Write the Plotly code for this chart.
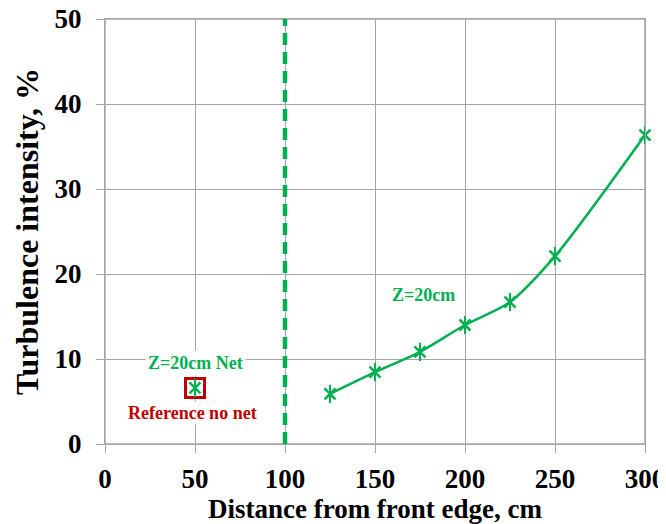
import plotly.graph_objects as go

# Data
dist_z20 = [125, 150, 175, 200, 225, 250, 300]
ti_z20 = [5.9, 8.45, 10.85, 14.0, 16.7, 22.1, 36.35]
dist_ref = [50]
ti_ref = [6.6]
net_edge_x = [100, 100]
net_edge_y = [0, 50]
x_ticks = [0, 50, 100, 150, 200, 250, 300]
y_ticks = [0, 10, 20, 30, 40, 50]

GREEN = "#00B050"
RED = "#C00000"
GRID = "#A6A6A6"
FONT = "Liberation Serif"

fig = go.Figure()

# net position dashed line
fig.add_trace(go.Scatter(x=net_edge_x, y=net_edge_y, mode="lines",
                         line=dict(color=GREEN, width=4.5, dash="12px,7px"),
                         hoverinfo="skip", showlegend=False, cliponaxis=False))

# main series (smoothed line + star markers)
fig.add_trace(go.Scatter(x=dist_z20, y=ti_z20, mode="lines+markers",
                         line=dict(color=GREEN, width=2.5, shape="spline", smoothing=0.8),
                         marker=dict(symbol="x-thin-open", size=11, color=GREEN,
                                     line=dict(color=GREEN, width=2.5)),
                         showlegend=False, cliponaxis=False))
fig.add_trace(go.Scatter(x=dist_z20, y=ti_z20, mode="markers",
                         marker=dict(symbol="line-ns-open", size=13, color=GREEN,
                                     line=dict(color=GREEN, width=2)),
                         showlegend=False, cliponaxis=False))

# reference point
fig.add_trace(go.Scatter(x=dist_ref, y=ti_ref, mode="markers",
                         marker=dict(symbol="square-open", size=19, color=RED,
                                     line=dict(color=RED, width=3)),
                         showlegend=False))
fig.add_trace(go.Scatter(x=dist_ref, y=ti_ref, mode="markers",
                         marker=dict(symbol="x-thin-open", size=11, color=GREEN,
                                     line=dict(color=GREEN, width=2.5)),
                         showlegend=False))
fig.add_trace(go.Scatter(x=dist_ref, y=ti_ref, mode="markers",
                         marker=dict(symbol="line-ns-open", size=13, color=GREEN,
                                     line=dict(color=GREEN, width=2)),
                         showlegend=False))

# annotations
fig.add_annotation(x=50.3, y=9.5, text="Z=20cm Net", showarrow=False,
                   font=dict(family=FONT, size=18, color=GREEN, weight="bold"),
                   bgcolor="white", borderpad=2)
fig.add_annotation(x=48.6, y=3.65, text="Reference no net", showarrow=False,
                   font=dict(family=FONT, size=18, color=RED, weight="bold"),
                   bgcolor="white")
fig.add_annotation(x=176.7, y=17.5, text="Z=20cm", showarrow=False,
                   font=dict(family=FONT, size=18, color=GREEN, weight="bold"))

# plot-area frame (top and right border lines like the chart's outer grid lines)
fig.add_shape(type="rect", xref="x domain", yref="y domain",
              x0=0, x1=1, y0=0, y1=1, layer="below",
              line=dict(color=GRID, width=1.5))

axis_common = dict(showgrid=True, gridcolor=GRID, gridwidth=1,
                   showline=True, linecolor=GRID, linewidth=1, mirror=True,
                   ticks="outside", ticklen=8, tickcolor=GRID,
                   zeroline=False, automargin=False,
                   ticklabeloverflow="allow",
                   tickfont=dict(family=FONT, size=27, color="black", weight="bold"))

fig.update_xaxes(range=[0, 300], tickvals=x_ticks, ticklabelstandoff=3,
                 title=dict(text="Distance from front edge, cm", standoff=4,
                            font=dict(family=FONT, size=27, color="black", weight="bold")),
                 **axis_common)
fig.update_yaxes(range=[0, 50], tickvals=y_ticks, ticklabelstandoff=9,
                 title=dict(text="Turbulence intensity, %", standoff=6,
                            font=dict(family=FONT, size=32, color="black", weight="bold")),
                 **axis_common)

fig.update_layout(width=658, height=516,
                  margin=dict(l=97, r=21, t=11, b=80),
                  plot_bgcolor="white", paper_bgcolor="white")

fig.write_html("out.html")
